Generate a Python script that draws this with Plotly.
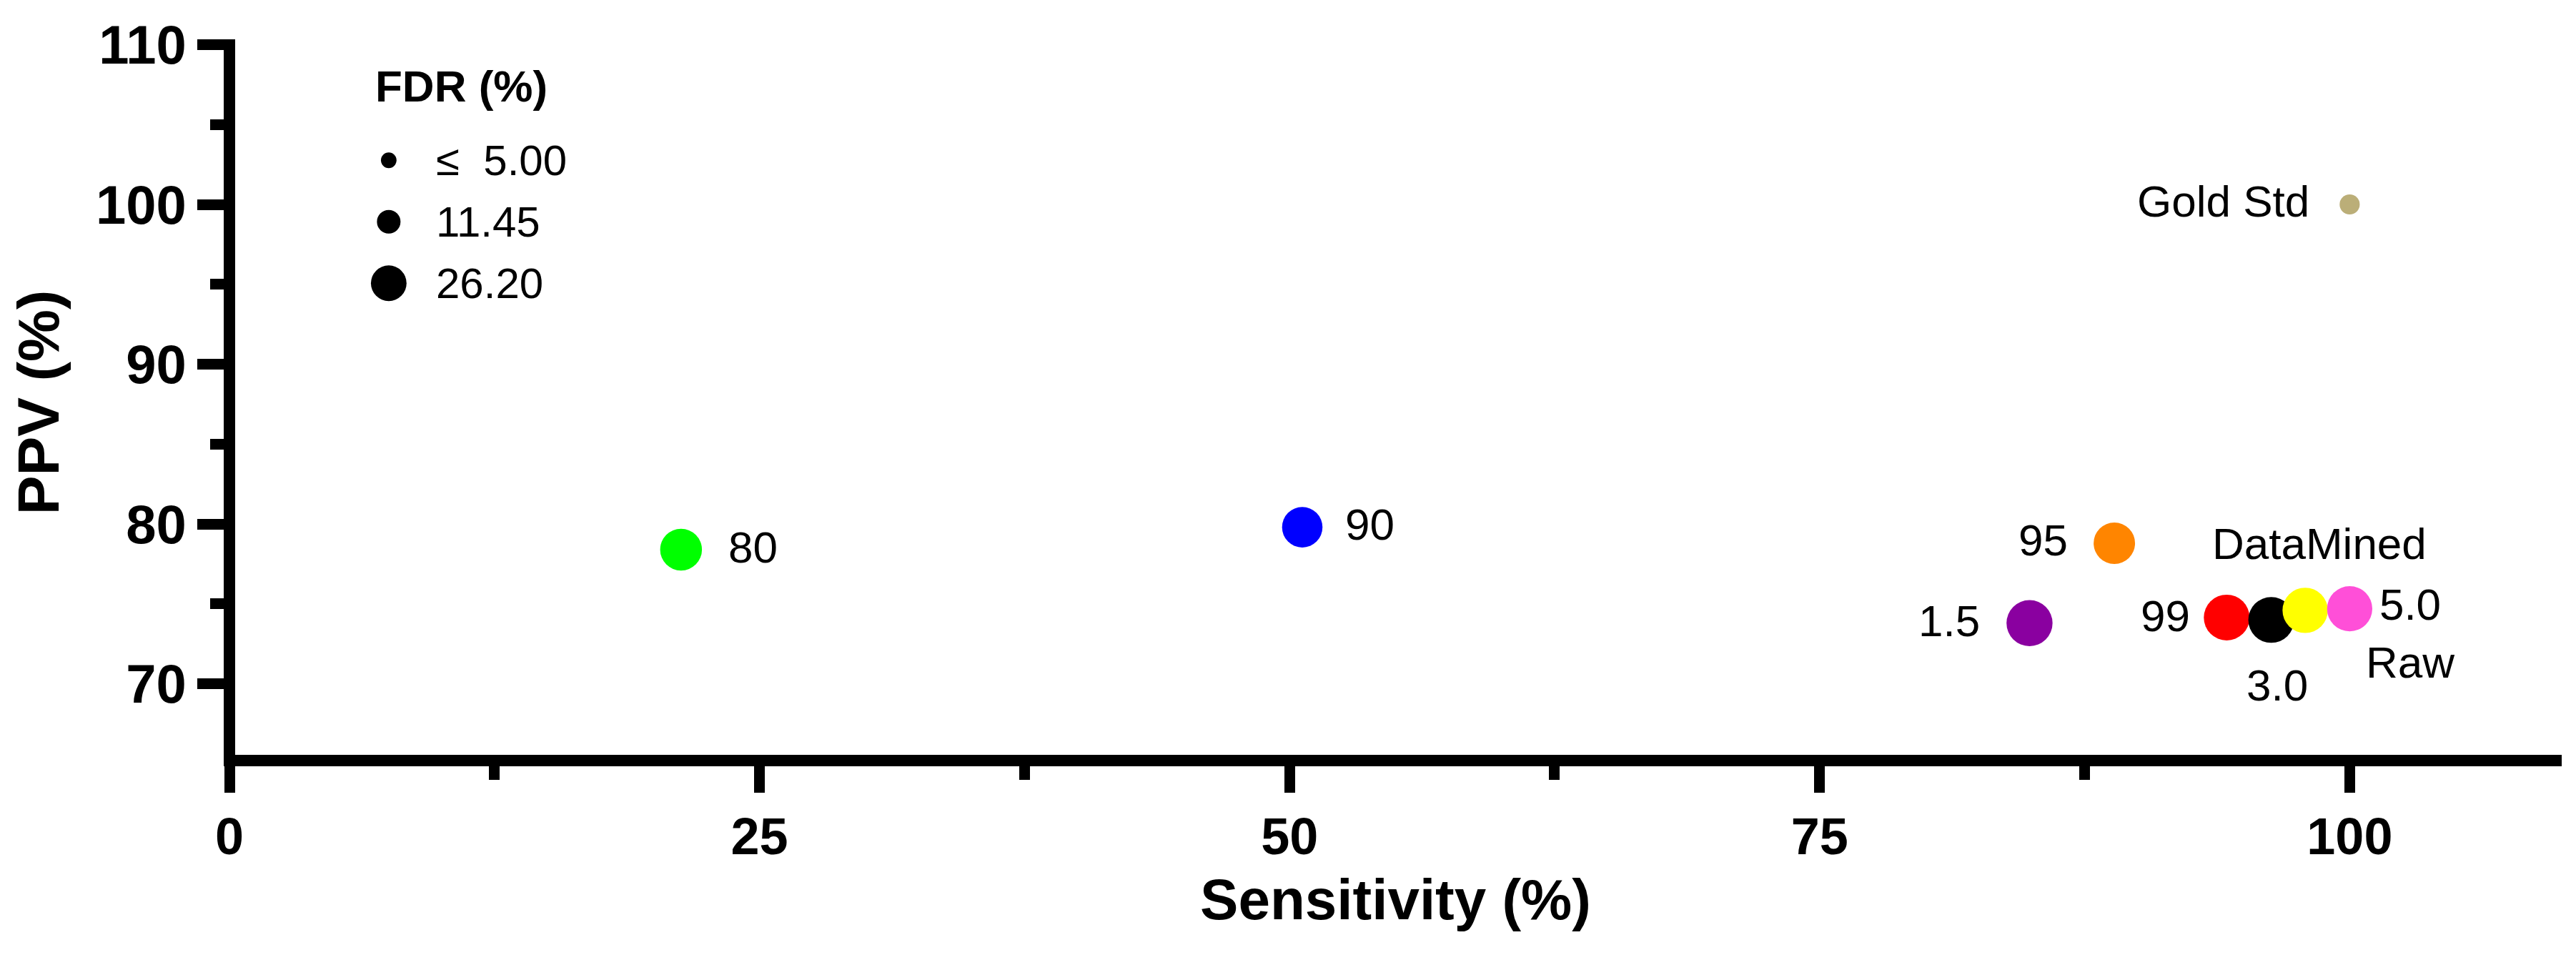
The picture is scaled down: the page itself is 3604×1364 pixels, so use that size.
import numpy as np
import plotly.graph_objects as go

# points
sensitivity = [21.3, 50.6, 88.9, 84.9, 94.2, 96.3, 97.9, 100.0, 100.0]
ppv = [78.4, 79.8, 78.8, 73.8, 74.15, 74.0, 74.6, 74.7, 100.0]
fdr = [21.6, 20.2, 21.2, 26.2, 25.9, 26.0, 25.4, 25.3, 0.0]
point_labels = ["80", "90", "95", "1.5", "99", "3.0", "DataMined", "5.0<br>Raw", "Gold Std"]
point_colors = ["#00FF00", "#0000FF", "#FF8500", "#8A00A0", "#FF0000", "#000000",
                "#FFFF00", "#FF4FD8", "#BBAE78"]

# size legend
legend_values = [5.00, 11.45, 26.20]
legend_labels = ["\u2264\u00a0\u00a05.00", "11.45", "26.20"]

x_ticks = [0, 25, 50, 75, 100]
y_ticks = [70, 80, 90, 100, 110]

# label placement: (xanchor, xshift, yshift)
label_pos = [("left", 64, 3), ("left", 58, 4), ("right", -63, 4), ("right", -67, 3),
             ("right", -49, 2), ("center", 8, -91), ("center", 20, 93),
             ("center", 85, -34), ("right", -54, 5)]

FONT = "Liberation Sans, Arial, sans-serif"

fig = go.Figure()

fig.add_trace(go.Scatter(
    x=sensitivity, y=ppv, mode="markers",
    marker=dict(size=np.clip(fdr, 5, None), sizemode="area", sizeref=0.01263,
                color=point_colors, line=dict(width=0), opacity=1),
    showlegend=False, hoverinfo="skip"))

for sx, py, lab, (anc, dx, dy) in zip(sensitivity, ppv, point_labels, label_pos):
    fig.add_annotation(x=sx, y=py, text=lab, showarrow=False, xanchor=anc, yanchor="middle",
                       xshift=dx, yshift=dy, align="center",
                       font=dict(family=FONT, size=62, color="black"))

# size legend drawn on its own small axes
fig.add_trace(go.Scatter(
    x=[0] * len(legend_values), y=list(range(len(legend_values))), xaxis="x2", yaxis="y2",
    mode="markers",
    marker=dict(size=legend_values, sizemode="area", sizeref=0.0211, color="black",
                line=dict(width=0), opacity=1),
    showlegend=False, hoverinfo="skip"))
for i, lab in enumerate(legend_labels):
    fig.add_annotation(x=0, y=i, xref="x2", yref="y2", text=lab, showarrow=False,
                       xanchor="left", yanchor="middle", xshift=64,
                       font=dict(family=FONT, size=60, color="black"))
fig.add_annotation(x=0.0619, y=0.9415, xref="paper", yref="paper", text="<b>FDR (%)</b>",
                   showarrow=False, xanchor="left", yanchor="middle",
                   font=dict(family=FONT, size=62, color="black"))

# thick axis lines, centred on the plot edges
fig.add_shape(type="line", xref="x domain", yref="y domain", x0=0, x1=0, y0=-0.008, y1=1.007,
              line=dict(color="black", width=16))
fig.add_shape(type="line", xref="x domain", yref="y domain", x0=0, x1=1, y0=0, y1=0,
              line=dict(color="black", width=16))

axis_common = dict(
    showline=False, showgrid=False, zeroline=False,
    ticks="outside", ticklen=44, tickwidth=15, tickcolor="black",
)

fig.update_layout(
    width=3604, height=1364,
    margin=dict(l=313, r=28, t=48, b=308),
    plot_bgcolor="white", paper_bgcolor="white",
    xaxis=dict(range=[0, 110], tickvals=x_ticks,
               tickfont=dict(family=FONT, size=72, color="black", weight="bold"),
               minor=dict(dtick=12.5, tick0=0, ticks="outside", ticklen=26, tickwidth=15,
                          tickcolor="black"),
               title=dict(text="Sensitivity (%)", standoff=20,
                          font=dict(family=FONT, size=80, color="black", weight="bold")),
               **axis_common),
    yaxis=dict(range=[65.2, 110.02], tickvals=y_ticks,
               tickfont=dict(family=FONT, size=76, color="black", weight="bold"),
               minor=dict(dtick=5, tick0=70, ticks="outside", ticklen=26, tickwidth=15,
                          tickcolor="black"),
               title=dict(text="PPV (%)", standoff=27,
                          font=dict(family=FONT, size=82, color="black", weight="bold")),
               **axis_common),
    xaxis2=dict(domain=[0.0483, 0.0883], range=[-1, 1], visible=False, anchor="y2"),
    yaxis2=dict(domain=[0.6235, 0.881], range=[2.5, -0.5], visible=False, anchor="x2"),
)

fig.write_html("out.html")
